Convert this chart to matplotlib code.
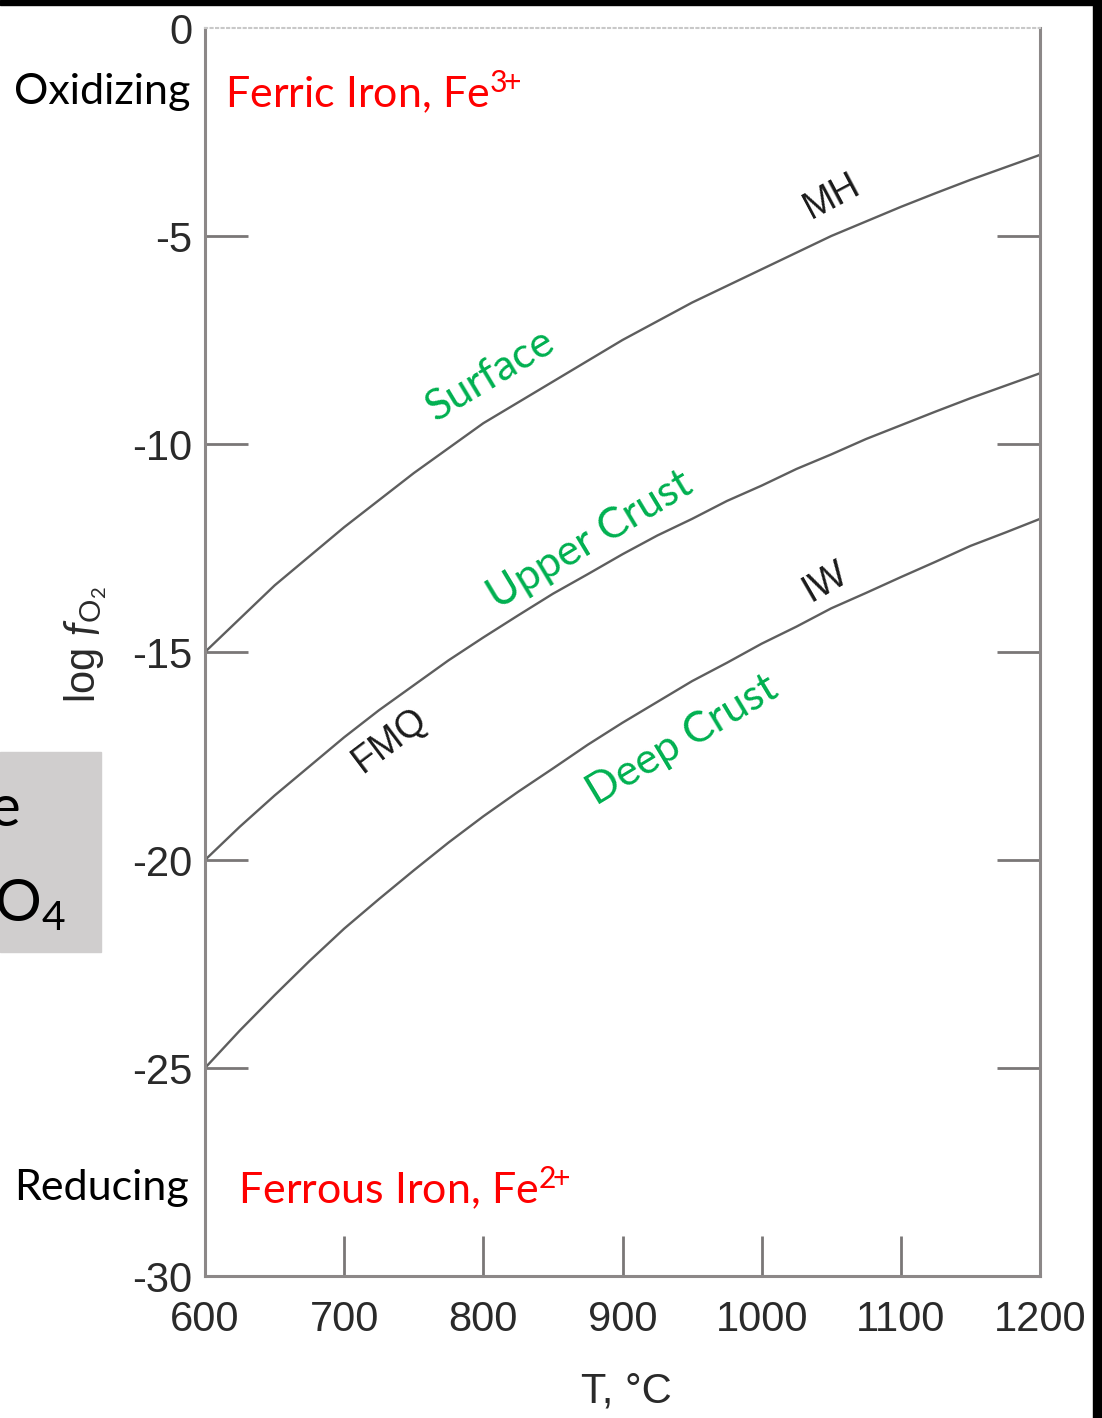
import matplotlib
matplotlib.use("Agg")
import matplotlib.pyplot as plt
import matplotlib.transforms as mtransforms
from matplotlib.patches import Rectangle

# temperature, deg C
temps = [600, 625, 650, 675, 700, 725, 750, 775, 800, 825, 850, 875, 900,
         925, 950, 975, 1000, 1025, 1050, 1075, 1100, 1125, 1150, 1175, 1200]

# log fO2 buffers
mh = [-15.0, -14.2, -13.4, -12.7, -12.0, -11.35, -10.7, -10.1, -9.5, -9.0, -8.5, -8.0, -7.5,
      -7.05, -6.6, -6.2, -5.8, -5.4, -5.0, -4.65, -4.3, -3.97, -3.65, -3.35, -3.05]
fmq = [-20.0, -19.2, -18.45, -17.75, -17.05, -16.4, -15.8, -15.2, -14.65, -14.12, -13.6, -13.13, -12.65,
       -12.2, -11.8, -11.37, -11.0, -10.6, -10.25, -9.88, -9.55, -9.22, -8.9, -8.6, -8.3]
iw = [-25.0, -24.1, -23.25, -22.43, -21.65, -20.94, -20.25, -19.58, -18.95, -18.36, -17.8, -17.23, -16.7,
      -16.2, -15.7, -15.26, -14.8, -14.39, -13.95, -13.58, -13.2, -12.83, -12.45, -12.13, -11.8]

xticks = [600, 700, 800, 900, 1000, 1100, 1200]
yticks = [0, -5, -10, -15, -20, -25, -30]

W, H = 1102, 1418
plt.rcParams['font.family'] = ['Liberation Sans', 'DejaVu Sans']
plt.rcParams['mathtext.fontset'] = 'custom'
plt.rcParams['mathtext.rm'] = 'Lato'
plt.rcParams['mathtext.it'] = 'Lato:italic'


def fx(px):
    return px / W


def fy(py):
    return 1 - py / H


fig = plt.figure(figsize=(W / 100, H / 100), dpi=100)
ax = fig.add_axes([fx(205), fy(1276), (1040 - 205) / W, (1276 - 28) / H])

line_col = '#5e5e5e'
for vals in (mh, fmq, iw):
    ax.plot(temps, vals, color=line_col, lw=1.7)

ax.set_xlim(600, 1200)
ax.set_ylim(-30, 0)

spine_col = '#8c8888'
for side in ('left', 'bottom', 'right'):
    ax.spines[side].set_color(spine_col)
    ax.spines[side].set_linewidth(2.2)
ax.spines['top'].set_color('#c8c8c8')
ax.spines['top'].set_linewidth(1.5)
ax.spines['top'].set_linestyle(':')

ax.set_xticks(xticks)
ax.set_yticks(yticks)
ax.set_yticklabels([str(v) for v in yticks])
ax.tick_params(axis='y', direction='in', length=31, width=2.0, color='#7a7777',
               left=True, right=True, labelsize=30, labelcolor='#2a2a2a', pad=9)
ax.tick_params(axis='x', direction='in', length=29, width=2.0, color='#7a7777',
               labelsize=30, labelcolor='#2a2a2a', pad=17)
# no visible tick marks at the corners
for t in ax.yaxis.get_major_ticks():
    if t.get_loc() in (0, -30):
        t.tick1line.set_visible(False)
        t.tick2line.set_visible(False)
for t in ax.xaxis.get_major_ticks():
    if t.get_loc() in (600, 1200):
        t.tick1line.set_visible(False)
    if t.get_loc() == 1200:
        # last label sits a little right, cut by the screenshot edge
        shift = mtransforms.ScaledTranslation(6 / 100, 0, fig.dpi_scale_trans)
        t.label1.set_transform(t.label1.get_transform() + shift)

fig.text(fx(626), fy(1392), 'T, °C', fontsize=30, color='#2a2a2a', ha='center', va='center')
fig.text(fx(86), fy(645), r'log $\mathit{f}_{\mathrm{O}_2}$', fontsize=30, color='#2a2a2a',
         rotation=90, ha='center', va='center')

# buffer names
ax.text(1050.5, -4.06, 'MH', rotation=28, fontsize=27, color='#1a1a1a',
        ha='center', va='center', rotation_mode='anchor')
ax.text(732.9, -17.12, 'FMQ', rotation=37, fontsize=27, color='#1a1a1a',
        ha='center', va='center', rotation_mode='anchor')
ax.text(1045.5, -13.32, 'IW', rotation=30, fontsize=27, color='#1a1a1a',
        ha='center', va='center', rotation_mode='anchor')

green = '#00b050'
ax.text(804.8, -8.34, 'Surface', rotation=31, fontsize=31, color=green, family='Lato',
        ha='center', va='center', rotation_mode='anchor')
ax.text(876.6, -12.31, 'Upper Crust', rotation=31, fontsize=31, color=green, family='Lato',
        ha='center', va='center', rotation_mode='anchor')
ax.text(942.7, -17.12, 'Deep Crust', rotation=31, fontsize=31, color=green, family='Lato',
        ha='center', va='center', rotation_mode='anchor')

# slide annotations
fig.text(fx(14), fy(92), 'Oxidizing', fontsize=31, family='Lato', color='black',
         ha='left', va='center')
fig.text(fx(14), fy(1188), 'Reducing', fontsize=31, family='Lato', color='black',
         ha='left', va='center')
fig.text(fx(225), fy(92), r'Ferric Iron, Fe$^{3\!\!+}$', fontsize=31, family='Lato', color='#ff0000',
         ha='left', va='center')
fig.text(fx(238), fy(1188), r'Ferrous Iron, Fe$^{2\!\!+}$', fontsize=31, family='Lato', color='#ff0000',
         ha='left', va='center')

# clipped grey box from the slide behind the chart
fig.patches.append(Rectangle((0, fy(952)), fx(101), (952 - 752) / H,
                             transform=fig.transFigure, color='#d0cece', zorder=0))
fig.text(fx(20), fy(810), 'e', fontsize=42, family='Lato', color='black', ha='right', va='center')
fig.text(fx(66), fy(905), r'O$_4$', fontsize=42, family='Lato', color='black', ha='right', va='center')

# black frame edges of the screenshot
fig.patches.append(Rectangle((0, fy(5)), 1, 5 / H, transform=fig.transFigure,
                             color='black', zorder=5))
fig.patches.append(Rectangle((fx(1093), 0), 1 - fx(1093), 1, transform=fig.transFigure,
                             color='black', zorder=5))

fig.savefig('out.png', dpi=100)
